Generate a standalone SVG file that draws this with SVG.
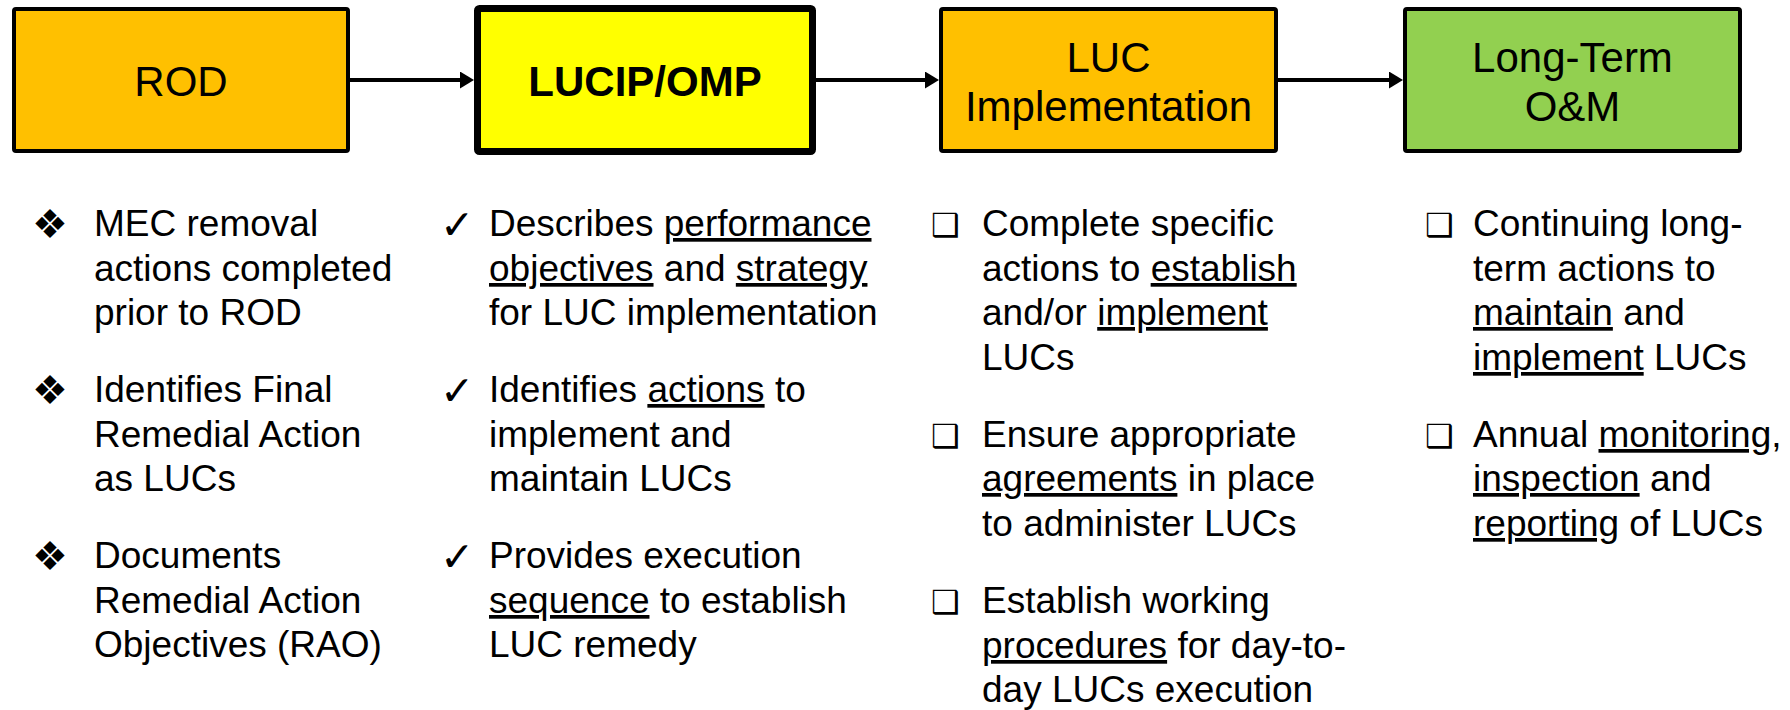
<svg xmlns="http://www.w3.org/2000/svg" width="1790" height="710" viewBox="0 0 1790 710">
<defs>
<style>
.box{stroke:#000;stroke-width:4;}
.thick{stroke-width:7;}
.title{font-family:"Liberation Sans",Arial,sans-serif;font-size:42px;fill:#000;text-anchor:middle;}
.body{font-family:"Liberation Sans",Arial,sans-serif;font-size:37px;fill:#000;}
.u{text-decoration:underline;}
.bul{font-family:"DejaVu Sans",sans-serif;fill:#000;}
.dia{font-size:40px;}
.chk{font-size:41px;}
.sq{font-size:32px;}
.conn{stroke:#000;stroke-width:4;fill:none;}
</style>
<marker id="arr" viewBox="0 0 14 17" refX="10" refY="8.5" markerWidth="14" markerHeight="17" markerUnits="userSpaceOnUse" orient="auto">
<path d="M0,0 L14,8.5 L0,17 Z" fill="#000"/>
</marker>
</defs>
<rect width="1790" height="710" fill="#fff"/>

<g id="node-rod">
<rect class="box" x="14" y="9" width="334" height="142" rx="2" fill="#FFC000"/>
<text class="title" x="181" y="96">ROD</text>
</g>
<g id="node-lucip">
<rect class="box thick" x="477.5" y="8.5" width="335" height="143" rx="2" fill="#FFFF00"/>
<text class="title" x="645" y="96" font-weight="bold">LUCIP/OMP</text>
</g>
<g id="node-lucimpl">
<rect class="box" x="941" y="9" width="335" height="142" rx="2" fill="#FFC000"/>
<text class="title" x="1108.5" y="72">LUC</text>
<text class="title" x="1108.5" y="121">Implementation</text>
</g>
<g id="node-ltom">
<rect class="box" x="1405" y="9" width="335" height="142" rx="2" fill="#92D050"/>
<text class="title" x="1572.5" y="72">Long-Term</text>
<text class="title" x="1572.5" y="121">O&amp;M</text>
</g>

<g id="connectors">
<line class="conn" x1="350" y1="80" x2="470" y2="80" marker-end="url(#arr)"/>
<line class="conn" x1="816" y1="80" x2="935" y2="80" marker-end="url(#arr)"/>
<line class="conn" x1="1278" y1="80" x2="1399" y2="80" marker-end="url(#arr)"/>
</g>

<g id="list-rod">
<text class="bul dia" x="32" y="238">❖</text>
<text class="body" x="94" y="236">MEC removal</text>
<text class="body" x="94" y="281">actions completed</text>
<text class="body" x="94" y="325">prior to ROD</text>
<text class="bul dia" x="32" y="404">❖</text>
<text class="body" x="94" y="402">Identifies Final</text>
<text class="body" x="94" y="447">Remedial Action</text>
<text class="body" x="94" y="491">as LUCs</text>
<text class="bul dia" x="32" y="570">❖</text>
<text class="body" x="94" y="568">Documents</text>
<text class="body" x="94" y="613">Remedial Action</text>
<text class="body" x="94" y="657">Objectives (RAO)</text>
</g>

<g id="list-lucip">
<text class="bul chk" x="440" y="239">✓</text>
<text class="body" x="489" y="236">Describes <tspan class="u">performance</tspan></text>
<text class="body" x="489" y="281"><tspan class="u">objectives</tspan> and <tspan class="u">strategy</tspan></text>
<text class="body" x="489" y="325">for LUC implementation</text>
<text class="bul chk" x="440" y="405">✓</text>
<text class="body" x="489" y="402">Identifies <tspan class="u">actions</tspan> to</text>
<text class="body" x="489" y="447">implement and</text>
<text class="body" x="489" y="491">maintain LUCs</text>
<text class="bul chk" x="440" y="571">✓</text>
<text class="body" x="489" y="568">Provides execution</text>
<text class="body" x="489" y="613"><tspan class="u">sequence</tspan> to establish</text>
<text class="body" x="489" y="657">LUC remedy</text>
</g>

<g id="list-lucimpl">
<text class="bul sq" x="931" y="236">❑</text>
<text class="body" x="982" y="236">Complete specific</text>
<text class="body" x="982" y="281">actions to <tspan class="u">establish</tspan></text>
<text class="body" x="982" y="325">and/or <tspan class="u">implement</tspan></text>
<text class="body" x="982" y="370">LUCs</text>
<text class="bul sq" x="931" y="447">❑</text>
<text class="body" x="982" y="447">Ensure appropriate</text>
<text class="body" x="982" y="491"><tspan class="u">agreements</tspan> in place</text>
<text class="body" x="982" y="536">to administer LUCs</text>
<text class="bul sq" x="931" y="613">❑</text>
<text class="body" x="982" y="613">Establish working</text>
<text class="body" x="982" y="658"><tspan class="u">procedures</tspan> for day-to-</text>
<text class="body" x="982" y="702">day LUCs execution</text>
</g>

<g id="list-ltom">
<text class="bul sq" x="1425" y="236">❑</text>
<text class="body" x="1473" y="236">Continuing long-</text>
<text class="body" x="1473" y="281">term actions to</text>
<text class="body" x="1473" y="325"><tspan class="u">maintain</tspan> and</text>
<text class="body" x="1473" y="370"><tspan class="u">implement</tspan> LUCs</text>
<text class="bul sq" x="1425" y="447">❑</text>
<text class="body" x="1473" y="447">Annual <tspan class="u">monitoring</tspan>,</text>
<text class="body" x="1473" y="491"><tspan class="u">inspection</tspan> and</text>
<text class="body" x="1473" y="536"><tspan class="u">reporting</tspan> of LUCs</text>
</g>
</svg>
